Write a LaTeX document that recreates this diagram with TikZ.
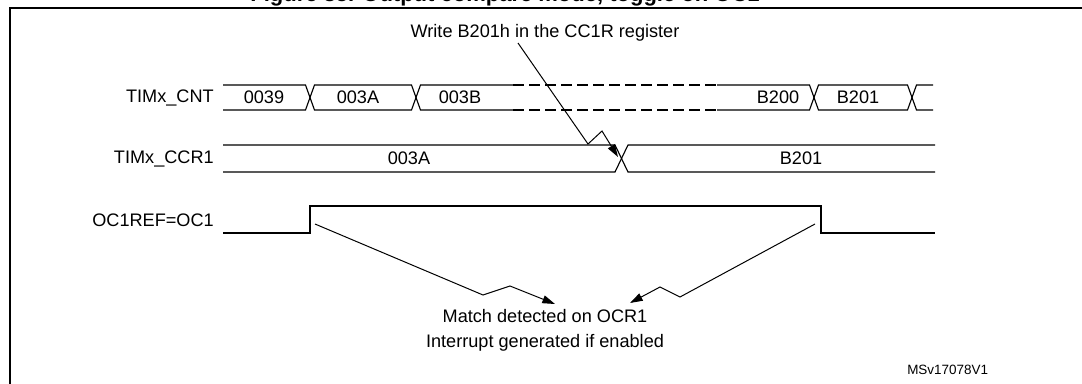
\documentclass[tikz,border=0pt]{standalone}
\usepackage{fontspec}
\setmainfont{Liberation Sans}
\usetikzlibrary{arrows.meta}
\begin{document}
\begin{tikzpicture}[x=0.75pt,y=-0.75pt,
  sig/.style={line width=0.85pt, black},
  dsig/.style={sig, dash pattern=on 8pt off 4pt},
  frame/.style={line width=1.6pt, black},
  lbl/.style={font=\fontsize{13.6}{16}\selectfont, inner sep=0pt},
  small/.style={font=\fontsize{10.1}{12}\selectfont, inner sep=0pt},
  ttl/.style={font=\bfseries\fontsize{16.5}{19}\selectfont, inner sep=0pt},
  ptr/.style={line width=0.75pt, black, -{Triangle[length=9.5pt,width=6pt]}}]
\useasboundingbox (0,0) rectangle (1082,383);
\clip (0,0) rectangle (1082,383);
% frame (open to the right and bottom)
\draw[frame] (10,400) -- (10,8) -- (1100,8);
% clipped title
\node[ttl, anchor=base] (title) at (505,1.5) {Figure 85. Output compare mode, toggle on OC1};
% signal names
\node[lbl, anchor=east] (lcnt) at (214,97.5) {TIMx\_CNT};
\node[lbl, anchor=east] (lccr) at (214,158.5) {TIMx\_CCR1};
\node[lbl, anchor=east] (loc)  at (214,220) {OC1REF=OC1};
% TIMx_CNT bus
\draw[sig] (223,85) -- (305.5,85) -- (314.5,110) -- (411.5,110) -- (420.5,85) -- (513,85);
\draw[sig] (223,110) -- (305.5,110) -- (314.5,85) -- (411.5,85) -- (420.5,110) -- (513,110);
\draw[dsig] (513,85) -- (717,85);
\draw[dsig] (513,110) -- (717,110);
\draw[sig] (717,85) -- (809.5,85) -- (818.5,110) -- (907.5,110) -- (916.5,85) -- (933,85);
\draw[sig] (717,110) -- (809.5,110) -- (818.5,85) -- (907.5,85) -- (916.5,110) -- (933,110);
\node[lbl] (c39) at (264,97.5) {0039};
\node[lbl] (c3a) at (358,97.5) {003A};
\node[lbl] (c3b) at (460,97.5) {003B};
\node[lbl] (cb0) at (778,97.5) {B200};
\node[lbl] (cb1) at (858,97.5) {B201};
% TIMx_CCR1 bus
\draw[sig] (223,145) -- (615,145) -- (628,172) -- (935,172);
\draw[sig] (223,172) -- (615,172) -- (628,145) -- (935,145);
\coordinate (ccrx) at (618,157);
\node[lbl] (r3a) at (409,158.5) {003A};
\node[lbl] (rb1) at (801,158.5) {B201};
% OC1REF signal
\draw[sig] (223,233) -- (310,233) -- (310,206) -- (821,206) -- (821,233) -- (935,233);
% write annotation
\node[lbl] (write) at (545,33) {Write B201h in the CC1R register};
\coordinate (w0) at (518,43);
\coordinate (w1) at (588,144);
\coordinate (w2) at (602,131);
\draw[ptr] (w0) -- (w1) -- (w2) -- (ccrx);
% match annotation
\node[lbl, align=center, font=\fontsize{13.6}{18.75}\selectfont] (match) at (545,330.5) {Match detected on OCR1\\Interrupt generated if enabled};
\coordinate (m0) at (315,224);
\coordinate (m1) at (483,295);
\coordinate (m2) at (510,286);
\coordinate (mt) at (555,304);
\draw[ptr] (m0) -- (m1) -- (m2) -- (mt);
\coordinate (n0) at (815,224);
\coordinate (n1) at (680,297);
\coordinate (n2) at (660,287);
\coordinate (nt) at (630,303);
\draw[ptr] (n0) -- (n1) -- (n2) -- (nt);
% reference code
\node[small, anchor=west] (ref) at (907,370) {MSv17078V1};
\end{tikzpicture}
\end{document}
